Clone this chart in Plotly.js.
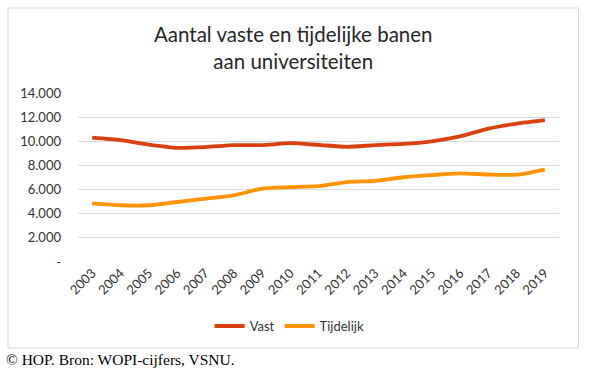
<!DOCTYPE html>
<html>
<head>
<meta charset="utf-8">
<script src="https://cdn.plot.ly/plotly-3.0.1.min.js"></script>
<style>html,body{margin:0;padding:0;background:#fff;}#chart{width:590px;height:372px;}</style>
</head>
<body>
<div id="chart"></div>
<script>
const years = ["2003","2004","2005","2006","2007","2008","2009","2010","2011","2012","2013","2014","2015","2016","2017","2018","2019"];
const vast = [10300,10100,9730,9460,9520,9680,9680,9840,9700,9540,9680,9780,10000,10400,11050,11470,11760];
const tijdelijk = [4850,4700,4700,4970,5250,5520,6080,6200,6290,6620,6720,7020,7200,7350,7250,7230,7660];
const yTickVals = [0,2000,4000,6000,8000,10000,12000,14000];
const yTickText = ["-","2.000","4.000","6.000","8.000","10.000","12.000","14.000"];

const font = "Lato, 'Open Sans', sans-serif";
const traces = [
  {x: years, y: vast, name: "Vast", type: "scatter", mode: "lines",
   line: {color: "#D9400E", width: 3.8, shape: "spline", smoothing: 0.6}},
  {x: years, y: tijdelijk, name: "Tijdelijk", type: "scatter", mode: "lines",
   line: {color: "#FF9400", width: 3.8, shape: "spline", smoothing: 0.6}}
];
const layout = {
  width: 590, height: 372,
  margin: {l: 78, r: 31, t: 93, b: 110},
  paper_bgcolor: "#fff", plot_bgcolor: "#fff",
  font: {family: font, color: "#333333", size: 13},
  title: {text: "Aantal vaste en tijdelijke banen<br>aan universiteiten",
          font: {family: font, size: 20.5, color: "#262626"},
          x: 0.497, xref: "container", xanchor: "center",
          y: 1 - 42/372, yref: "container", yanchor: "middle"},
  xaxis: {type: "category", range: [-0.5, 16.5], tickangle: -45,
          showgrid: false, zeroline: false, showline: false, ticks: "",
          tickfont: {family: font, size: 13, color: "#333333"}},
  yaxis: {range: [0, 14000], tickvals: yTickVals, ticktext: yTickText,
          showgrid: true, gridcolor: "#d9d9d9", gridwidth: 1, zeroline: false,
          ticks: "", ticklabelstandoff: 16,
          tickfont: {family: font, size: 13, color: "#333333"}},
  showlegend: true,
  legend: {orientation: "h", x: 0.44, xanchor: "center", y: -0.379, yanchor: "middle",
           font: {family: font, size: 13, color: "#333333"}, itemwidth: 30, tracegroupgap: 0},
  shapes: [
    {type: "rect", xref: "paper", yref: "paper",
     x0: (8-78)/481, x1: (578.5-78)/481, y0: (262-348)/169, y1: (262-8)/169,
     line: {color: "#d9d9d9", width: 1}, fillcolor: "rgba(0,0,0,0)", layer: "below"}
  ],
  annotations: [
    {text: "© HOP. Bron: WOPI-cijfers, VSNU.", xref: "paper", yref: "paper",
     x: (4-78)/481, y: (262-359)/169, xanchor: "left", yanchor: "middle", showarrow: false,
     font: {family: "'Liberation Serif', 'Times New Roman', serif", size: 15.5, color: "#000"}}
  ]
};
Plotly.newPlot("chart", traces, layout, {displayModeBar: false, staticPlot: true});
</script>
</body>
</html>
